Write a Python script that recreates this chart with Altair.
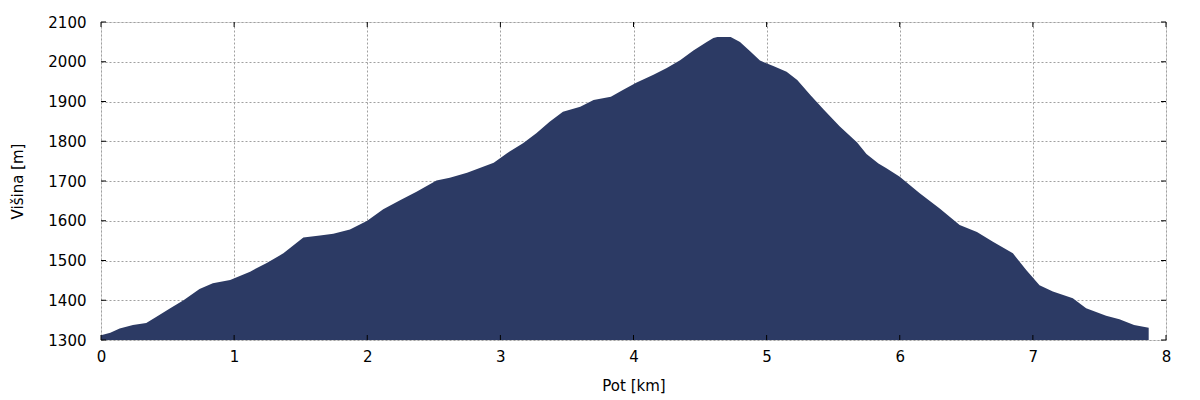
import altair as alt
import pandas as pd

# distance along route [km]
dist = [0.00, 0.07, 0.14, 0.24, 0.34, 0.42, 0.52, 0.62, 0.74, 0.84, 0.97,
        1.12, 1.245, 1.37, 1.52, 1.645, 1.745, 1.87, 2.00, 2.12, 2.25, 2.37,
        2.52, 2.62, 2.75, 2.87, 2.95, 3.05, 3.17, 3.27, 3.37, 3.47, 3.60,
        3.70, 3.83, 3.92, 4.02, 4.15, 4.25, 4.35, 4.45, 4.55, 4.60, 4.63,
        4.73, 4.80, 4.88, 4.95, 5.05, 5.15, 5.23, 5.33, 5.43, 5.55, 5.68,
        5.75, 5.84, 5.90, 6.00, 6.15, 6.30, 6.45, 6.58, 6.70, 6.85, 6.95,
        7.05, 7.15, 7.30, 7.40, 7.55, 7.65, 7.76, 7.87]
# elevation [m]
elev = [1312, 1318, 1329, 1338, 1343, 1359, 1380, 1400, 1428, 1443, 1451,
        1472, 1494, 1518, 1558, 1563, 1567, 1578, 1600, 1629, 1652, 1673,
        1701, 1708, 1721, 1736, 1746, 1770, 1795, 1820, 1849, 1874, 1887,
        1904, 1912, 1929, 1947, 1967, 1984, 2004, 2028, 2050, 2060, 2062,
        2062, 2050, 2025, 2003, 1989, 1975, 1954, 1916, 1879, 1837, 1797,
        1768, 1744, 1732, 1711, 1669, 1631, 1589, 1572, 1547, 1518, 1476,
        1438, 1422, 1405, 1380, 1361, 1352, 1338, 1331]

x_ticks = [0, 1, 2, 3, 4, 5, 6, 7, 8]
y_ticks = [1300, 1400, 1500, 1600, 1700, 1800, 1900, 2000, 2100]
y_base = 1300

W, H = 1065, 318
FONT = "DejaVu Sans"

df = pd.DataFrame({"d": dist, "h": elev})
xt = pd.DataFrame({"t": x_ticks})
yt = pd.DataFrame({"t": y_ticks})

xs = alt.Scale(domain=[0, 8], nice=False, zero=False)
ys = alt.Scale(domain=[1300, 2100], nice=False, zero=False)

area = alt.Chart(df).mark_area(color="#2c3a64", opacity=1).encode(
    x=alt.X("d:Q", scale=xs, axis=alt.Axis(
        values=x_ticks, tickCount=30, format="d", title="Pot [km]", grid=True,
        ticks=False, domain=False, labelOverlap=False, labelFlush=False,
        labelPadding=9, labelFontSize=15, labelFont=FONT, labelColor="#000",
        titleFontSize=15, titleFont=FONT, titleFontWeight="normal", titleColor="#000",
        titleX=W / 2, titleY=45, titleBaseline="middle", titleAnchor="middle",
        gridDash=[2, 2], gridColor="#a0a0a0", gridWidth=1)),
    y=alt.Y("h:Q", scale=ys, axis=alt.Axis(
        values=y_ticks, tickCount=30, format="d", title="Višina [m]", grid=True,
        ticks=False, domain=False, labelOverlap=False, labelFlush=False,
        labelPadding=15, labelFontSize=15, labelFont=FONT, labelColor="#000",
        titleFontSize=15, titleFont=FONT, titleFontWeight="normal", titleColor="#000",
        titleX=-84, titleY=H / 2, titleAngle=-90, titleBaseline="middle",
        titleAlign="center", titleAnchor="middle",
        gridDash=[2, 2], gridColor="#a0a0a0", gridWidth=1)),
    y2=alt.datum(y_base),
)

tx = alt.X("t:Q", scale=xs)
ty = alt.Y("t:Q", scale=ys)
tick_bottom = alt.Chart(xt).mark_rule(color="#000").encode(
    x=tx, y=alt.value(H), y2=alt.value(H - 5))
tick_top = alt.Chart(xt).mark_rule(color="#000").encode(
    x=tx, y=alt.value(0), y2=alt.value(5))
tick_left = alt.Chart(yt).mark_rule(color="#000").encode(
    y=ty, x=alt.value(0), x2=alt.value(5))
tick_right = alt.Chart(yt).mark_rule(color="#000").encode(
    y=ty, x=alt.value(W), x2=alt.value(W - 5))

chart = alt.layer(area, tick_bottom, tick_top, tick_left, tick_right).properties(
    width=W, height=H,
    autosize=alt.AutoSizeParams(type="none"),
    padding={"left": 93, "top": 14, "right": 26, "bottom": 60},
).configure_view(stroke="#000", strokeWidth=1).configure(background="white")

chart.save("out.html", embed_options={"renderer": "svg", "actions": False})
